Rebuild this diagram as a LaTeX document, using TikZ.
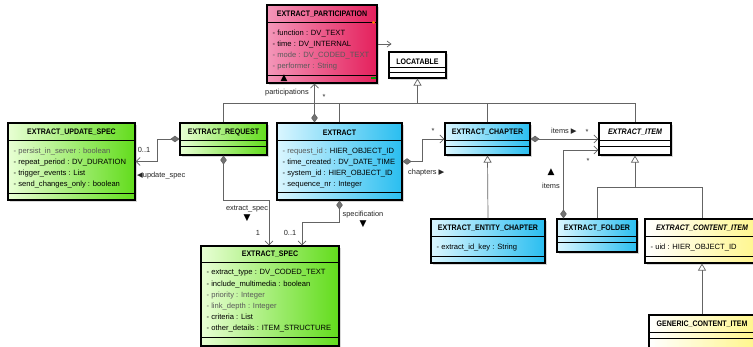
\documentclass[tikz,border=0pt]{standalone}
\usepackage{fontspec}
\setmainfont{Liberation Sans}
\newfontfamily\narrowfont[FakeStretch=0.88]{Liberation Sans}
\newfontfamily\symfont{DejaVu Sans}
\usetikzlibrary{arrows.meta,shadows}

\definecolor{pinklight}{RGB}{244,150,185}
\definecolor{pinkdark}{RGB}{228,32,92}
\definecolor{greenlight}{RGB}{232,255,212}
\definecolor{greendark}{RGB}{98,220,28}
\definecolor{bluelight}{RGB}{218,246,255}
\definecolor{bluedark}{RGB}{42,190,240}
\definecolor{yellowdark}{RGB}{255,246,140}
\definecolor{connline}{RGB}{100,100,100}

\tikzset{
    classbox/.style={draw=black, line width=1.1pt, inner sep=0pt,
        drop shadow={shadow xshift=2pt, shadow yshift=-2pt, opacity=0.3}},
    pinkclass/.style={classbox, left color=pinklight, right color=pinkdark},
    greenclass/.style={classbox, left color=greenlight, right color=greendark},
    blueclass/.style={classbox, left color=bluelight, right color=bluedark},
    yellowclass/.style={classbox, left color=white, right color=yellowdark},
    whiteclass/.style={classbox, fill=white},
    classname/.style={font=\narrowfont\bfseries\fontsize{8}{9}\selectfont, inner sep=0pt},
    attrs/.style={font=\fontsize{7.6}{11.2}\selectfont, align=left, inner sep=0pt, anchor=north west},
    lbl/.style={font=\fontsize{7.4}{9}\selectfont, inner sep=0pt, text=black!85},
    tri/.style={font=\symfont\fontsize{9}{10}\selectfont, inner sep=0pt},
    sepline/.style={draw=black, line width=0.8pt},
    conn/.style={draw=connline, line width=0.7pt},
    comp/.style={conn, {Diamond[length=9pt, width=6.5pt, fill=black!55]}-{Straight Barb[length=4pt, width=8pt]}},
    genl/.style={conn, -{Triangle[open, length=7pt, width=8pt, fill=white]}},
}

\begin{document}
\begin{tikzpicture}[x=1pt, y=-1pt]
    \useasboundingbox (0,0) rectangle (753,347);
    \fill[white] (0,0) rectangle (753,347);
    \clip (0,0) rectangle (753,347);

    % classes
    \node[pinkclass, minimum width=110pt, minimum height=78pt] (part) at (322,44) {};
    \node[classname] at ([yshift=-10pt]part.north) {EXTRACT\_PARTICIPATION};
    \draw[sepline] ([yshift=-18pt]part.north west) -- ([yshift=-18pt]part.north east);
    \node[attrs] at ([shift={(6pt,-25pt)}]part.north west) {- function : DV\_TEXT\\- time : DV\_INTERNAL\\\textcolor{black!65}{- mode : DV\_CODED\_TEXT}\\\textcolor{black!65}{- performer : String}};
    \draw[sepline] ([yshift=8pt]part.south west) -- ([yshift=8pt]part.south east);
    \fill[orange] ([shift={(-4pt,-18pt)}]part.north east) circle (1.6pt);
    \fill[green!60!black] ([shift={(-7pt,7pt)}]part.south east) rectangle ++(5,2);

    \node[whiteclass, minimum width=57pt, minimum height=26pt] (loc) at (417.5,65) {};
    \node[classname] at ([yshift=-10pt]loc.north) {LOCATABLE};
    \draw[sepline] ([yshift=-16pt]loc.north west) -- ([yshift=-16pt]loc.north east);
    \draw[sepline] ([yshift=-21pt]loc.north west) -- ([yshift=-21pt]loc.north east);

    \node[greenclass, minimum width=127pt, minimum height=77pt] (upd) at (71.5,161.5) {};
    \node[classname] at ([yshift=-10pt]upd.north) {EXTRACT\_UPDATE\_SPEC};
    \draw[sepline] ([yshift=-18pt]upd.north west) -- ([yshift=-18pt]upd.north east);
    \node[attrs] at ([shift={(6pt,-25pt)}]upd.north west) {\textcolor{black!65}{- persist\_in\_server : boolean}\\- repeat\_period : DV\_DURATION\\- trigger\_events : List\\- send\_changes\_only : boolean};
    \draw[sepline] ([yshift=7pt]upd.south west) -- ([yshift=7pt]upd.south east);

    \node[greenclass, minimum width=87pt, minimum height=32pt] (req) at (223.5,139) {};
    \node[classname] at ([yshift=-10pt]req.north) {EXTRACT\_REQUEST};
    \draw[sepline] ([yshift=-18pt]req.north west) -- ([yshift=-18pt]req.north east);
    \draw[sepline] ([yshift=-24pt]req.north west) -- ([yshift=-24pt]req.north east);

    \node[blueclass, minimum width=125pt, minimum height=77pt] (ext) at (339.5,161.5) {};
    \node[classname] at ([yshift=-10pt]ext.north) {EXTRACT};
    \draw[sepline] ([yshift=-18pt]ext.north west) -- ([yshift=-18pt]ext.north east);
    \node[attrs] at ([shift={(6pt,-25pt)}]ext.north west) {\textcolor{black!65}{- request\_id :} HIER\_OBJECT\_ID\\- time\_created : DV\_DATE\_TIME\\- system\_id : HIER\_OBJECT\_ID\\- sequence\_nr : Integer};
    \draw[sepline] ([yshift=8pt]ext.south west) -- ([yshift=8pt]ext.south east);

    \node[blueclass, minimum width=85pt, minimum height=32pt] (chap) at (487.5,139) {};
    \node[classname] at ([yshift=-10pt]chap.north) {EXTRACT\_CHAPTER};
    \draw[sepline] ([yshift=-18pt]chap.north west) -- ([yshift=-18pt]chap.north east);
    \draw[sepline] ([yshift=-24pt]chap.north west) -- ([yshift=-24pt]chap.north east);

    \node[whiteclass, minimum width=72pt, minimum height=32pt] (item) at (635,139) {};
    \node[classname, font=\narrowfont\bfseries\itshape\fontsize{8}{9}\selectfont] at ([yshift=-10pt]item.north) {EXTRACT\_ITEM};
    \draw[sepline] ([yshift=-18pt]item.north west) -- ([yshift=-18pt]item.north east);
    \draw[sepline] ([yshift=-24pt]item.north west) -- ([yshift=-24pt]item.north east);

    \node[blueclass, minimum width=114pt, minimum height=44pt] (ent) at (488,241) {};
    \node[classname] at ([yshift=-10pt]ent.north) {EXTRACT\_ENTITY\_CHAPTER};
    \draw[sepline] ([yshift=-18pt]ent.north west) -- ([yshift=-18pt]ent.north east);
    \node[attrs] at ([shift={(6pt,-25pt)}]ent.north west) {- extract\_id\_key : String};
    \draw[sepline] ([yshift=7pt]ent.south west) -- ([yshift=7pt]ent.south east);

    \node[blueclass, minimum width=80pt, minimum height=33pt] (fold) at (597,235.5) {};
    \node[classname] at ([yshift=-10pt]fold.north) {EXTRACT\_FOLDER};
    \draw[sepline] ([yshift=-18pt]fold.north west) -- ([yshift=-18pt]fold.north east);
    \draw[sepline] ([yshift=-24pt]fold.north west) -- ([yshift=-24pt]fold.north east);

    \node[yellowclass, minimum width=114pt, minimum height=44pt] (cont) at (702,241) {};
    \node[classname, font=\narrowfont\bfseries\itshape\fontsize{8}{9}\selectfont] at ([yshift=-10pt]cont.north) {EXTRACT\_CONTENT\_ITEM};
    \draw[sepline] ([yshift=-18pt]cont.north west) -- ([yshift=-18pt]cont.north east);
    \node[attrs] at ([shift={(6pt,-25pt)}]cont.north west) {- uid : HIER\_OBJECT\_ID};
    \draw[sepline] ([yshift=7pt]cont.south west) -- ([yshift=7pt]cont.south east);

    \node[yellowclass, minimum width=106pt, minimum height=44pt] (gen) at (702,337) {};
    \node[classname] at ([yshift=-10pt]gen.north) {GENERIC\_CONTENT\_ITEM};
    \draw[sepline] ([yshift=-18pt]gen.north west) -- ([yshift=-18pt]gen.north east);
    \draw[sepline] ([yshift=-24pt]gen.north west) -- ([yshift=-24pt]gen.north east);

    \node[greenclass, minimum width=138pt, minimum height=100pt] (spec) at (270,296) {};
    \node[classname] at ([yshift=-9pt]spec.north) {EXTRACT\_SPEC};
    \draw[sepline] ([yshift=-17pt]spec.north west) -- ([yshift=-17pt]spec.north east);
    \node[attrs] at ([shift={(6pt,-24pt)}]spec.north west) {- extract\_type : DV\_CODED\_TEXT\\- include\_multimedia : boolean\\\textcolor{black!65}{- priority : Integer}\\\textcolor{black!65}{- link\_depth : Integer}\\- criteria : List\\- other\_details : ITEM\_STRUCTURE};
    \draw[sepline] ([yshift=9pt]spec.south west) -- ([yshift=9pt]spec.south east);

    % generalisations
    \coordinate (locbus) at (417.5,103);
    \draw[conn] (req.north) |- (item.north |- locbus) -- (item.north);
    \draw[conn] (ext.north) -- (ext.north |- locbus);
    \draw[conn] (chap.north) -- (chap.north |- locbus);
    \draw[genl] (loc.south |- locbus) -- (loc.south);
    \coordinate (itembus) at (635,187);
    \draw[conn] (fold.north) |- (cont.north |- itembus) -- (cont.north);
    \draw[genl] (item.south |- itembus) -- (item.south);
    \draw[genl] (ent.north) -- (chap.south);
    \draw[genl] (gen.north) -- (cont.south);
    \draw[conn, -{Straight Barb[open, length=4pt, width=6pt]}] (part.east) -- ++(14,0);

    % associations
    \draw[comp] ([xshift=-25pt]ext.north) -- ([xshift=-25pt]ext.north |- part.south);
    \node[lbl, anchor=east] at (309,93) {participations};
    \node[lbl] at (324,97) {*};
    \node[tri] at (284,78) {▲};

    \draw[comp] (req.west) -- ++(-22,0) |- (upd.east);
    \node[lbl] at (144,150) {0..1};
    \node[lbl, anchor=west] at (137,176) {{\symfont ◀}update\_spec};

    \draw[comp] (req.south) -- ++(0,45) -| ([xshift=-1pt]spec.north);
    \node[lbl] at (247,209) {extract\_spec};
    \node[tri] at (247,218) {▼};
    \node[lbl] at (258,233) {1};

    \draw[comp] (ext.south) -- ++(0,22) -| ([xshift=32pt]spec.north);
    \node[lbl] at (363,215) {specification};
    \node[tri] at (363,224) {▼};
    \node[lbl] at (290,233) {0..1};

    \draw[comp] (ext.east) -- ++(20,0) |- (chap.west);
    \node[lbl] at (433,131) {*};
    \node[lbl, anchor=west] at (408,173) {chapters {\symfont ▶}};

    \draw[comp] (chap.east) -- (item.west);
    \node[lbl, anchor=west] at (551,131) {items {\symfont ▶}};
    \node[lbl] at (587,132) {*};

    \draw[comp] ([xshift=7pt]fold.north west) |- ([yshift=-11pt]item.west);
    \node[lbl] at (588,161) {*};
    \node[tri] at (551,172) {▲};
    \node[lbl] at (551,186) {items};
\end{tikzpicture}
\end{document}
